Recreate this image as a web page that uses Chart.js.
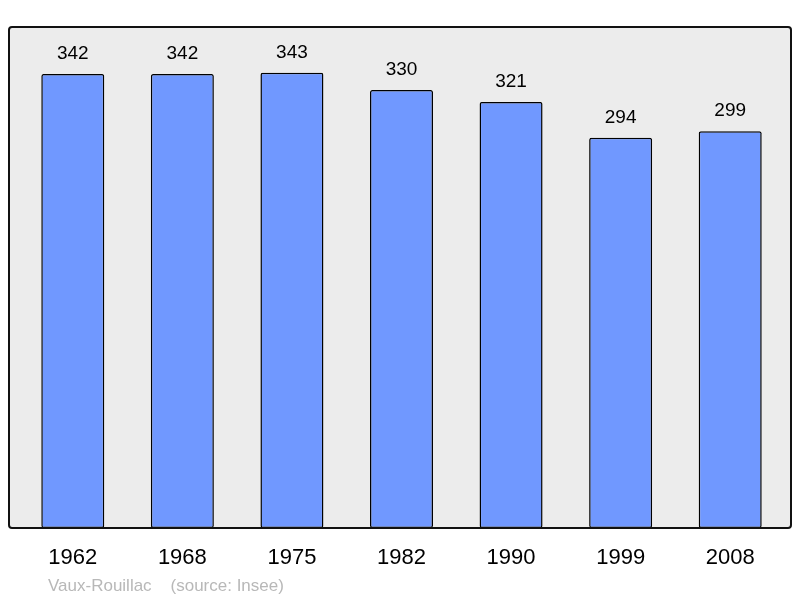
<!DOCTYPE html>
<html>
<head>
<meta charset="utf-8">
<script src="https://cdn.jsdelivr.net/npm/chart.js@4"></script>
<style>
html,body{margin:0;padding:0;background:#fff;}
#wrap{width:800px;height:598px;position:relative;}
</style>
</head>
<body>
<div id="wrap"><canvas id="c" width="800" height="598"></canvas></div>
<script>
const years = ["1962","1968","1975","1982","1990","1999","2008"];
const population = [342,342,343,330,321,294,299];
const sourceText = "Vaux-Rouillac    (source: Insee)";

const framePlugin = {
  id:'frame',
  beforeDraw(chart){
    const {ctx, chartArea:a} = chart;
    const l=a.left-9, r=a.right+6, t=a.top, b=a.bottom;
    ctx.save();
    ctx.beginPath();
    ctx.roundRect(l,t,r-l,b-t,3);
    ctx.fillStyle='#ececec';
    ctx.fill();
    ctx.restore();
  },
  afterDatasetsDraw(chart){
    const {ctx, chartArea:a} = chart;
    const l=a.left-9, r=a.right+6, t=a.top, b=a.bottom;
    ctx.save();
    ctx.beginPath();
    ctx.roundRect(l,t,r-l,b-t,3);
    ctx.lineWidth=2;
    ctx.strokeStyle='#111';
    ctx.stroke();
    // value labels
    const meta = chart.getDatasetMeta(0);
    ctx.fillStyle='#000';
    ctx.font='19px "Liberation Sans", Arial, sans-serif';
    ctx.textAlign='center';
    ctx.textBaseline='alphabetic';
    meta.data.forEach((bar,i)=>{
      ctx.fillText(String(population[i]), bar.x, bar.y-15);
    });
    // source
    ctx.fillStyle='#b8b8b8';
    ctx.font='17px "Liberation Sans", Arial, sans-serif';
    ctx.textAlign='left';
    ctx.fillText(sourceText, 48, 591);
    ctx.restore();
  }
};

new Chart(document.getElementById('c'),{
  type:'bar',
  data:{labels:years,datasets:[{
    data:population,
    backgroundColor:'#7098ff',
    borderColor:'#000',
    borderWidth:1.5,
    borderRadius:2,
    borderSkipped:false,
    barPercentage:0.575,
    categoryPercentage:1
  }]},
  options:{
    responsive:false,
    animation:false,
    devicePixelRatio:1,
    layout:{padding:{left:18,right:15,top:27,bottom:0}},
    plugins:{legend:{display:false},tooltip:{enabled:false}},
    scales:{
      x:{
        grid:{display:false,drawTicks:false},
        border:{display:false},
        ticks:{color:'#000',padding:17,font:{size:22,family:'"Liberation Sans", Arial, sans-serif'}},
        afterFit(s){s.height=70;}
      },
      y:{display:false,min:0,max:377.5}
    }
  },
  plugins:[framePlugin]
});
</script>
</body>
</html>
